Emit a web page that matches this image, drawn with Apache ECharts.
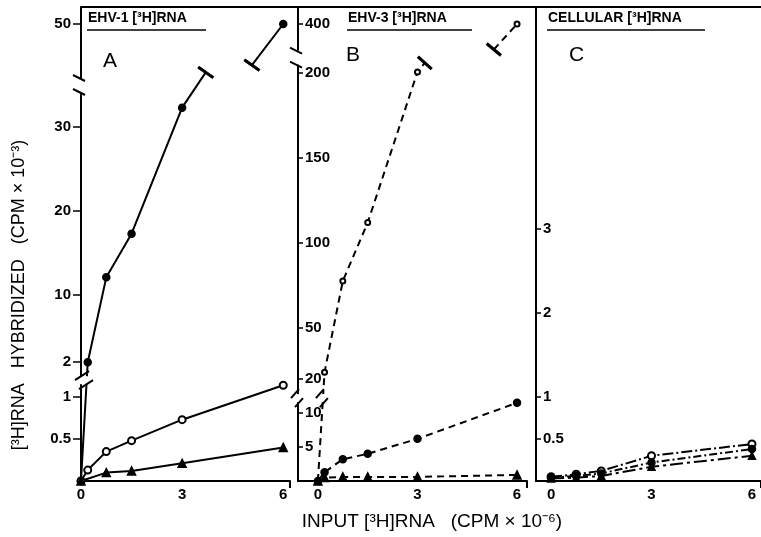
<!DOCTYPE html>
<html>
<head>
<meta charset="utf-8">
<script src="https://cdn.jsdelivr.net/npm/echarts@6/dist/echarts.min.js"></script>
<style>
  html, body { margin: 0; padding: 0; background: #fff; }
  #chart { width: 761px; height: 537px; }
</style>
</head>
<body>
<div id="chart"></div>
<script>
// ---- data ----
// panel A : EHV-1 RNA (solid lines)
const aFilledX = [0, 0.2, 0.75, 1.5, 3];
const aFilledY = [0, 2, 12.1, 17.3, 32.3];
const aFilledCapLow = [3.7, 36.5];   // line stops at the break
const aFilledCapHigh = [5.07, 45.1]; // line resumes above the break
const aFilledTop = [6, 50];
const aOpenX = [0, 0.2, 0.75, 1.5, 3, 6];
const aOpenY = [0, 0.13, 0.35, 0.48, 0.73, 1.14];
const aTriX = [0, 0.75, 1.5, 3, 6];
const aTriY = [0, 0.1, 0.12, 0.21, 0.4];
const aTicks = [0.5, 1, 2, 10, 20, 30, 50];
const aBreaks = [1.2, 35];

// panel B : EHV-3 RNA (dashed lines)
const bOpenX = [0, 0.2, 0.75, 1.5, 3];
const bOpenY = [0, 24, 77.6, 112, 200.6];
const bOpenCapLow = [3.22, 206];
const bOpenCapHigh = [5.3, 385];
const bOpenTop = [6, 400];
const bFilledX = [0, 0.2, 0.75, 1.5, 3, 6];
const bFilledY = [0, 1.3, 3.2, 4.0, 6.2, 11.5];
const bTriX = [0, 0.2, 0.75, 1.5, 3, 6];
const bTriY = [0, 0.5, 0.6, 0.6, 0.6, 0.9];
const bTicks = [5, 10, 20, 50, 100, 150, 200, 400];
const bBreaks = [12.2, 209];

// panel C : cellular RNA (dash-dot lines)
const cX = [0, 0.75, 1.5, 3, 6];
const cOpenY = [0.05, 0.08, 0.12, 0.3, 0.44];
const cFilledY = [0.04, 0.06, 0.09, 0.22, 0.38];
const cTriY = [0.03, 0.04, 0.06, 0.17, 0.3];
const cTicks = [0.5, 1, 2, 3];

const xTicks = [0, 3, 6];

// ---- broken y scales (each segment has its own unit) ----
function mapA(v) {
  if (v <= 1.25) return 84 * v;
  if (v <= 40) return 102 + 8.4 * v;
  return 457 - (50 - v) * 8.4;
}
function mapB(v) {
  if (v <= 13) return 6.8 * v;
  if (v <= 300) return 68 + 1.7 * v;
  return 457 - (400 - v) * 1.7;
}
function mapC(v) {
  return 84 * v;
}

function pts(xs, ys, map) {
  return xs.map((x, i) => [x, map(ys[i])]);
}
function cap(p, map, rot) {
  return {
    value: [p[0], map(p[1])],
    symbol: 'rect',
    symbolSize: [15, 2.5],
    symbolRotate: rot,
    itemStyle: { color: '#000' }
  };
}
function tickFormatter(ticks, map) {
  const lut = {};
  ticks.forEach(t => { lut[map(t).toFixed(2)] = String(t); });
  return v => lut[Number(v).toFixed(2)] || '';
}

const FONT = 'Liberation Sans, Arial, sans-serif';
const black = '#000';
const labelStyle = { color: black, fontSize: 15, fontWeight: 'bold', fontFamily: FONT };

function xAxisFor(grid, min, max) {
  return {
    type: 'value', gridIndex: grid, min: min, max: max,
    axisLine: { onZero: false, lineStyle: { color: black, width: 2 } },
    axisTick: { show: true, customValues: [max], length: 7, lineStyle: { color: black, width: 2 } },
    axisLabel: Object.assign({ customValues: xTicks, margin: 6 }, labelStyle),
    splitLine: { show: false }
  };
}
function yAxisFor(grid, ticks, map, inside) {
  return {
    type: 'value', gridIndex: grid, min: 0, max: 474,
    axisLine: { show: true, onZero: false, lineStyle: { color: black, width: 2 } },
    axisTick: { show: true, inside: inside, length: inside ? 5 : 8, customValues: ticks.map(map), lineStyle: { color: black, width: 1.5 } },
    axisLabel: Object.assign({ inside: inside, margin: inside ? 7 : 10, customValues: ticks.map(map), formatter: tickFormatter(ticks, map) }, labelStyle),
    splitLine: { show: false }
  };
}

function line(name, grid, data, symbol, size, dash) {
  return {
    name: name, type: 'line', xAxisIndex: grid, yAxisIndex: grid,
    data: data, symbol: symbol, symbolSize: size, showAllSymbol: true,
    lineStyle: { color: black, width: 2, type: dash },
    itemStyle: { color: black, borderColor: black, borderWidth: 1.5 },
    emphasis: { disabled: true }, z: 3
  };
}

const dashB = [7, 5];
const option = {
  animation: false,
  backgroundColor: '#fff',
  grid: [
    { left: 81, top: 7, width: 209, height: 474 },
    { left: 298, top: 7, width: 229, height: 474 },
    { left: 536, top: 7, width: 225, height: 474 }
  ],
  xAxis: [xAxisFor(0, 0, 6.2), xAxisFor(1, -0.6, 6.3), xAxisFor(2, -0.45, 6.27)],
  yAxis: [yAxisFor(0, aTicks, mapA, false), yAxisFor(1, bTicks, mapB, true), yAxisFor(2, cTicks, mapC, true)],
  series: [
    line('A filled', 0, pts(aFilledX, aFilledY, mapA).concat([cap(aFilledCapLow, mapA, -35)]), 'circle', 7, 'solid'),
    line('A filled top', 0, [cap(aFilledCapHigh, mapA, -35), [aFilledTop[0], mapA(aFilledTop[1])]], 'circle', 7, 'solid'),
    line('A open', 0, pts(aOpenX, aOpenY, mapA), 'emptyCircle', 7, 'solid'),
    line('A tri', 0, pts(aTriX, aTriY, mapA), 'triangle', 8, 'solid'),

    line('B open', 1, pts(bOpenX, bOpenY, mapB).concat([cap(bOpenCapLow, mapB, -42)]), 'emptyCircle', 5, dashB),
    line('B open top', 1, [cap(bOpenCapHigh, mapB, -40), [bOpenTop[0], mapB(bOpenTop[1])]], 'emptyCircle', 5, dashB),
    line('B filled', 1, pts(bFilledX, bFilledY, mapB), 'circle', 7, dashB),
    line('B tri', 1, pts(bTriX, bTriY, mapB), 'triangle', 8, dashB),

    line('C open', 2, pts(cX, cOpenY, mapC), 'emptyCircle', 7, [11, 3, 2, 3]),
    line('C filled', 2, pts(cX, cFilledY, mapC), 'circle', 7, [8, 3, 2, 3]),
    line('C tri', 2, pts(cX, cTriY, mapC), 'triangle', 7, [13, 4, 3, 4])
  ]
};

const chart = echarts.init(document.getElementById('chart'));
chart.setOption(option);

// ---- decorations: frame, titles, axis breaks ----
function px(grid, x, y) {
  return chart.convertToPixel({ xAxisIndex: grid, yAxisIndex: grid }, [x, y]);
}
function seg(x1, y1, x2, y2, w) {
  return { type: 'line', z: 100, shape: { x1: x1, y1: y1, x2: x2, y2: y2 }, style: { stroke: black, lineWidth: w || 2 } };
}
function txt(x, y, s, size, weight, align, rot) {
  return {
    type: 'text', z: 100, x: x, y: y, rotation: rot || 0,
    style: { text: s, fill: black, font: (weight || 'normal') + ' ' + size + 'px ' + FONT, textAlign: align || 'left', textVerticalAlign: 'middle' }
  };
}
// "//" style break, crossing the axis (and optionally a data line)
function slashBreak(cx, cy, w) {
  return [
    { type: 'rect', z: 99, shape: { x: cx - w / 2, y: cy - 4, width: w, height: 8 }, style: { fill: '#fff' } },
    seg(cx - w / 2 - 2, cy, cx + w / 2 - 4, cy - 9),
    seg(cx - w / 2 + 2, cy + 9, cx + w / 2, cy)
  ];
}
// gap in the axis with slanted caps
function capBreak(cx, cy) {
  return [
    { type: 'rect', z: 99, shape: { x: cx - 3, y: cy - 7, width: 6, height: 14 }, style: { fill: '#fff' } },
    seg(cx - 8, cy - 10, cx + 4, cy - 4),
    seg(cx - 8, cy + 4, cx + 4, cy + 10)
  ];
}

const g = [];
g.push(seg(81, 7, 761, 7, 2));
// panel titles
const titles = [
  { x: 88, s: 'EHV-1 [³H]RNA', u: [87, 206], letter: 'A', lx: 103, ly: 61 },
  { x: 348, s: 'EHV-3 [³H]RNA', u: [347, 472], letter: 'B', lx: 346, ly: 55 },
  { x: 548, s: 'CELLULAR [³H]RNA', u: [547, 705], letter: 'C', lx: 569, ly: 55 }
];
titles.forEach(t => {
  g.push(txt(t.x, 18, t.s, 14, 'bold'));
  g.push(seg(t.u[0], 30, t.u[1], 30, 1.5));
  g.push(txt(t.lx, t.ly, t.letter, 21, 'normal'));
});
// axis titles
g.push(txt(19, 295, '[³H]RNA   HYBRIDIZED   (CPM × 10⁻³)', 18, 'normal', 'center', Math.PI / 2));
g.push(txt(432, 522, 'INPUT [³H]RNA   (CPM × 10⁻⁶)', 19, 'normal', 'center'));

// breaks
let p = px(0, 0, mapA(aBreaks[0]));
slashBreak(p[0] + 4, p[1], 16).forEach(e => g.push(e));
p = px(0, 0, mapA(aBreaks[1]));
capBreak(p[0], p[1]).forEach(e => g.push(e));
p = px(1, -0.6, mapB(bBreaks[0]));
slashBreak(p[0], p[1], 10).forEach(e => g.push(e));
p = px(1, 0.15, mapB(bBreaks[0]));
slashBreak(p[0], p[1], 10).forEach(e => g.push(e));
p = px(1, -0.6, mapB(bBreaks[1]));
capBreak(p[0], p[1]).forEach(e => g.push(e));

chart.setOption({ graphic: { elements: g } });
</script>
</body>
</html>
